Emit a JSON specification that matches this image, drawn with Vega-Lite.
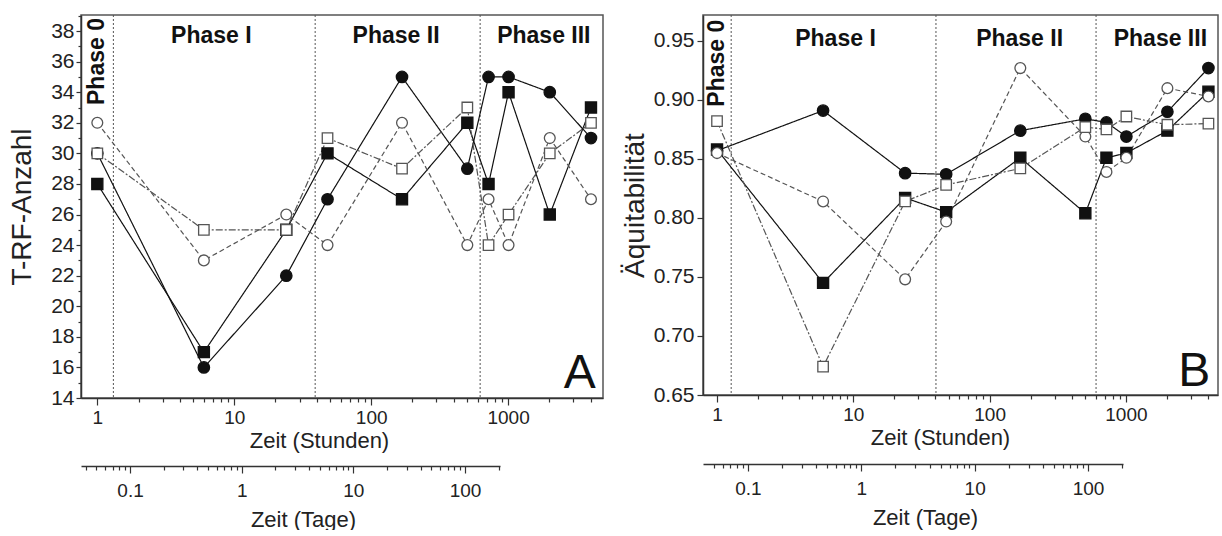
{
  "$schema": "https://vega.github.io/schema/vega-lite/v6.json",
  "padding": {"left": 7, "top": 13, "right": 0, "bottom": 0},
  "config": {
    "font": "Liberation Sans",
    "view": {"stroke": "#555", "strokeWidth": 1.5},
    "axis": {"domainColor": "#333", "domainWidth": 1.5, "tickColor": "#333", "tickWidth": 1.2, "labelColor": "#222", "titleColor": "#222", "grid": false, "titleFontWeight": "normal", "labelOverlap": false, "labelFlush": false, "labelSeparation": 0}
  },
  "datasets": {
    "A": [
      {"s": "fc", "h": 1, "v": 30}, {"s": "fc", "h": 6, "v": 16}, {"s": "fc", "h": 24, "v": 22}, {"s": "fc", "h": 48, "v": 27}, {"s": "fc", "h": 168, "v": 35}, {"s": "fc", "h": 504, "v": 29}, {"s": "fc", "h": 720, "v": 35}, {"s": "fc", "h": 1008, "v": 35}, {"s": "fc", "h": 2016, "v": 34}, {"s": "fc", "h": 4032, "v": 31},
      {"s": "fs", "h": 1, "v": 28}, {"s": "fs", "h": 6, "v": 17}, {"s": "fs", "h": 24, "v": 25}, {"s": "fs", "h": 48, "v": 30}, {"s": "fs", "h": 168, "v": 27}, {"s": "fs", "h": 504, "v": 32}, {"s": "fs", "h": 720, "v": 28}, {"s": "fs", "h": 1008, "v": 34}, {"s": "fs", "h": 2016, "v": 26}, {"s": "fs", "h": 4032, "v": 33},
      {"s": "oc", "h": 1, "v": 32}, {"s": "oc", "h": 6, "v": 23}, {"s": "oc", "h": 24, "v": 26}, {"s": "oc", "h": 48, "v": 24}, {"s": "oc", "h": 168, "v": 32}, {"s": "oc", "h": 504, "v": 24}, {"s": "oc", "h": 720, "v": 27}, {"s": "oc", "h": 1008, "v": 24}, {"s": "oc", "h": 2016, "v": 31}, {"s": "oc", "h": 4032, "v": 27},
      {"s": "os", "h": 1, "v": 30}, {"s": "os", "h": 6, "v": 25}, {"s": "os", "h": 24, "v": 25}, {"s": "os", "h": 48, "v": 31}, {"s": "os", "h": 168, "v": 29}, {"s": "os", "h": 504, "v": 33}, {"s": "os", "h": 720, "v": 24}, {"s": "os", "h": 1008, "v": 26}, {"s": "os", "h": 2016, "v": 30}, {"s": "os", "h": 4032, "v": 32}
    ],
    "B": [
      {"s": "fc", "h": 1, "v": 0.857}, {"s": "fc", "h": 6, "v": 0.891}, {"s": "fc", "h": 24, "v": 0.838}, {"s": "fc", "h": 48, "v": 0.837}, {"s": "fc", "h": 168, "v": 0.874}, {"s": "fc", "h": 504, "v": 0.884}, {"s": "fc", "h": 720, "v": 0.881}, {"s": "fc", "h": 1008, "v": 0.869}, {"s": "fc", "h": 2016, "v": 0.890}, {"s": "fc", "h": 4032, "v": 0.927},
      {"s": "fs", "h": 1, "v": 0.858}, {"s": "fs", "h": 6, "v": 0.745}, {"s": "fs", "h": 24, "v": 0.817}, {"s": "fs", "h": 48, "v": 0.805}, {"s": "fs", "h": 168, "v": 0.851}, {"s": "fs", "h": 504, "v": 0.804}, {"s": "fs", "h": 720, "v": 0.851}, {"s": "fs", "h": 1008, "v": 0.855}, {"s": "fs", "h": 2016, "v": 0.874}, {"s": "fs", "h": 4032, "v": 0.907},
      {"s": "oc", "h": 1, "v": 0.855}, {"s": "oc", "h": 6, "v": 0.814}, {"s": "oc", "h": 24, "v": 0.748}, {"s": "oc", "h": 48, "v": 0.797}, {"s": "oc", "h": 168, "v": 0.927}, {"s": "oc", "h": 504, "v": 0.869}, {"s": "oc", "h": 720, "v": 0.839}, {"s": "oc", "h": 1008, "v": 0.851}, {"s": "oc", "h": 2016, "v": 0.910}, {"s": "oc", "h": 4032, "v": 0.903},
      {"s": "os", "h": 1, "v": 0.882}, {"s": "os", "h": 6, "v": 0.674}, {"s": "os", "h": 24, "v": 0.814}, {"s": "os", "h": 48, "v": 0.828}, {"s": "os", "h": 168, "v": 0.842}, {"s": "os", "h": 504, "v": 0.877}, {"s": "os", "h": 720, "v": 0.875}, {"s": "os", "h": 1008, "v": 0.886}, {"s": "os", "h": 2016, "v": 0.879}, {"s": "os", "h": 4032, "v": 0.880}
    ],
    "phA": [{"h": 1.31}, {"h": 39}, {"h": 625}],
    "phB": [{"h": 1.27}, {"h": 40.4}, {"h": 604}],
    "lbA": [{"h": 6.8, "v": 37.2, "t": "Phase I"}, {"h": 152, "v": 37.2, "t": "Phase II"}, {"h": 1824, "v": 37.2, "t": "Phase III"}],
    "lbB": [{"h": 7.4, "v": 0.9458, "t": "Phase I"}, {"h": 166, "v": 0.9458, "t": "Phase II"}, {"h": 1790, "v": 0.9458, "t": "Phase III"}],
    "p0A": [{"h": 1.0, "v": 38.85, "t": "Phase 0"}],
    "p0B": [{"h": 1.0, "v": 0.968, "t": "Phase 0"}],
    "letA": [{"h": 4370, "v": 14.67, "t": "A"}],
    "letB": [{"h": 4160, "v": 0.6576, "t": "B"}],
    "tage": [{"d": 0.0417}, {"d": 0.25}, {"d": 1}, {"d": 2}, {"d": 7}, {"d": 21}, {"d": 30}, {"d": 42}, {"d": 84}, {"d": 168}]
  },
  "hconcat": [
    {
      "vconcat": [
        {
          "width": 522,
          "height": 383,
          "resolve": {"axis": {"y": "independent"}},
          "layer": [
            {
              "data": {"name": "phA"},
              "mark": {"type": "rule", "strokeDash": [2, 2], "color": "#555", "strokeWidth": 1},
              "encoding": {"x": {"field": "h", "type": "quantitative", "scale": {"type": "log", "domain": [0.76, 4935], "nice": false}}}
            },
            {
              "data": {"name": "A"},
              "mark": {"type": "line", "strokeWidth": 1.2},
              "encoding": {
                "x": {"field": "h", "type": "quantitative", "scale": {"type": "log", "domain": [0.76, 4935], "nice": false},
                  "axis": {"title": "Zeit (Stunden)", "values": [1,2,3,4,5,6,7,8,9,10,20,30,40,50,60,70,80,90,100,200,300,400,500,600,700,800,900,1000,2000,3000,4000],
                    "labelExpr": "abs(log(datum.value)/LN10 - round(log(datum.value)/LN10)) < 1e-6 ? format(datum.value, '~g') : ''",
                    "tickSize": {"condition": {"test": "abs(log(datum.value)/LN10 - round(log(datum.value)/LN10)) < 1e-6", "value": 7}, "value": 4},
                    "labelOverlap": false, "labelFontSize": 19, "titleFontSize": 22, "labelPadding": 3, "titlePadding": 3, "titleX": 238}},
                "y": {"field": "v", "type": "quantitative", "scale": {"domain": [14, 39.05], "nice": false, "zero": false},
                  "axis": {"title": "T-RF-Anzahl", "values": [14,16,18,20,22,24,26,28,30,32,34,36,38], "format": "d",
                    "tickSize": 5, "labelOverlap": false, "labelFontSize": 21, "titleFontSize": 28, "labelPadding": 2, "titlePadding": 14}},
                "detail": {"field": "s", "type": "nominal"},
                "strokeDash": {"field": "s", "type": "nominal", "scale": {"domain": ["fc", "fs", "oc", "os"], "range": [[1, 0], [1, 0], [5, 3], [7, 2, 2, 2]]}, "legend": null},
                "stroke": {"field": "s", "type": "nominal", "scale": {"domain": ["fc", "fs", "oc", "os"], "range": ["#111", "#111", "#555", "#555"]}, "legend": null}
              }
            },
            {
              "data": {"name": "A"},
              "mark": {"type": "point", "filled": true, "opacity": 1, "strokeWidth": 1.3},
              "encoding": {
                "x": {"field": "h", "type": "quantitative", "scale": {"type": "log", "domain": [0.76, 4935], "nice": false}},
                "y": {"field": "v", "type": "quantitative", "scale": {"domain": [14, 39.05], "nice": false, "zero": false}, "axis": null},
                "shape": {"field": "s", "type": "nominal", "scale": {"domain": ["fc", "fs", "oc", "os"], "range": ["circle", "square", "circle", "square"]}, "legend": null},
                "fill": {"field": "s", "type": "nominal", "scale": {"domain": ["fc", "fs", "oc", "os"], "range": ["#111", "#111", "#ffffff", "#ffffff"]}, "legend": null},
                "stroke": {"field": "s", "type": "nominal", "scale": {"domain": ["fc", "fs", "oc", "os"], "range": ["#111", "#111", "#555", "#555"]}, "legend": null},
                "size": {"field": "s", "type": "nominal", "scale": {"domain": ["fc", "fs", "oc", "os"], "range": [130, 110, 130, 100]}, "legend": null}
              }
            },
            {
              "data": {"name": "lbA"},
              "mark": {"type": "text", "fontWeight": "bold", "fontSize": 23, "baseline": "alphabetic", "align": "center", "color": "#111"},
              "encoding": {
                "x": {"field": "h", "type": "quantitative"},
                "y": {"field": "v", "type": "quantitative", "axis": null},
                "text": {"field": "t"}
              }
            },
            {
              "data": {"name": "p0A"},
              "mark": {"type": "text", "fontWeight": "bold", "fontSize": 23, "baseline": "middle", "align": "right", "angle": 270, "color": "#111"},
              "encoding": {
                "x": {"field": "h", "type": "quantitative"},
                "y": {"field": "v", "type": "quantitative",
                  "axis": {"orient": "left", "values": [15,17,19,21,23,25,27,29,31,33,35,37,39], "labels": false, "domain": false, "title": null, "tickSize": 3}},
                "text": {"field": "t"}
              }
            },
            {
              "data": {"name": "letA"},
              "mark": {"type": "text", "fontSize": 48, "baseline": "alphabetic", "align": "right", "color": "#111"},
              "encoding": {
                "x": {"field": "h", "type": "quantitative"},
                "y": {"field": "v", "type": "quantitative", "axis": null},
                "text": {"field": "t"}
              }
            }
          ]
        },
        {
          "width": 419,
          "height": 1,
          "view": {"stroke": null},
          "data": {"name": "tage"},
          "mark": {"type": "point", "opacity": 0},
          "encoding": {
            "x": {"field": "d", "type": "quantitative", "scale": {"type": "log", "domain": [0.0364, 205.6], "nice": false},
              "axis": {"title": "Zeit (Tage)", "orient": "bottom", "values": [0.04,0.05,0.06,0.07,0.08,0.09,0.1,0.2,0.3,0.4,0.5,0.6,0.7,0.8,0.9,1,2,3,4,5,6,7,8,9,10,20,30,40,50,60,70,80,90,100,200],
                "labelExpr": "abs(log(datum.value)/LN10 - round(log(datum.value)/LN10)) < 1e-6 ? format(datum.value, '~g') : ''",
                "tickSize": {"condition": {"test": "abs(log(datum.value)/LN10 - round(log(datum.value)/LN10)) < 1e-6", "value": 7}, "value": 4},
                "labelOverlap": false, "labelFontSize": 19, "titleFontSize": 22, "labelPadding": 8, "titlePadding": 9, "titleX": 222}}
          }
        }
      ],
      "spacing": 67,
      "bounds": "flush"
    },
    {
      "vconcat": [
        {
          "width": 515,
          "height": 380,
          "layer": [
            {
              "data": {"name": "phB"},
              "mark": {"type": "rule", "strokeDash": [2, 2], "color": "#555", "strokeWidth": 1},
              "encoding": {"x": {"field": "h", "type": "quantitative", "scale": {"type": "log", "domain": [0.789, 4740], "nice": false}}}
            },
            {
              "data": {"name": "B"},
              "mark": {"type": "line", "strokeWidth": 1.2},
              "encoding": {
                "x": {"field": "h", "type": "quantitative", "scale": {"type": "log", "domain": [0.789, 4740], "nice": false},
                  "axis": {"title": "Zeit (Stunden)", "values": [1,2,3,4,5,6,7,8,9,10,20,30,40,50,60,70,80,90,100,200,300,400,500,600,700,800,900,1000,2000,3000,4000],
                    "labelExpr": "abs(log(datum.value)/LN10 - round(log(datum.value)/LN10)) < 1e-6 ? format(datum.value, '~g') : ''",
                    "tickSize": {"condition": {"test": "abs(log(datum.value)/LN10 - round(log(datum.value)/LN10)) < 1e-6", "value": 7}, "value": 4},
                    "labelOverlap": false, "labelFontSize": 19, "titleFontSize": 22, "labelPadding": 3, "titlePadding": 3, "titleX": 237}},
                "y": {"field": "v", "type": "quantitative", "scale": {"domain": [0.65, 0.972], "nice": false, "zero": false},
                  "axis": {"title": "Äquitabilität", "values": [0.65,0.675,0.7,0.725,0.75,0.775,0.8,0.825,0.85,0.875,0.9,0.925,0.95],
                    "labelExpr": "abs(datum.value*20 - round(datum.value*20)) < 1e-6 ? format(datum.value, '.2f') : ''",
                    "tickSize": {"condition": {"test": "abs(datum.value*20 - round(datum.value*20)) < 1e-6", "value": 6}, "value": 3},
                    "labelOverlap": false, "labelFontSize": 21, "titleFontSize": 28, "labelPadding": 3, "titlePadding": 4}},
                "detail": {"field": "s", "type": "nominal"},
                "strokeDash": {"field": "s", "type": "nominal", "scale": {"domain": ["fc", "fs", "oc", "os"], "range": [[1, 0], [1, 0], [5, 3], [7, 2, 2, 2]]}, "legend": null},
                "stroke": {"field": "s", "type": "nominal", "scale": {"domain": ["fc", "fs", "oc", "os"], "range": ["#111", "#111", "#555", "#555"]}, "legend": null}
              }
            },
            {
              "data": {"name": "B"},
              "mark": {"type": "point", "filled": true, "opacity": 1, "strokeWidth": 1.3},
              "encoding": {
                "x": {"field": "h", "type": "quantitative", "scale": {"type": "log", "domain": [0.789, 4740], "nice": false}},
                "y": {"field": "v", "type": "quantitative", "scale": {"domain": [0.65, 0.972], "nice": false, "zero": false}},
                "shape": {"field": "s", "type": "nominal", "scale": {"domain": ["fc", "fs", "oc", "os"], "range": ["circle", "square", "circle", "square"]}, "legend": null},
                "fill": {"field": "s", "type": "nominal", "scale": {"domain": ["fc", "fs", "oc", "os"], "range": ["#111", "#111", "#ffffff", "#ffffff"]}, "legend": null},
                "stroke": {"field": "s", "type": "nominal", "scale": {"domain": ["fc", "fs", "oc", "os"], "range": ["#111", "#111", "#555", "#555"]}, "legend": null},
                "size": {"field": "s", "type": "nominal", "scale": {"domain": ["fc", "fs", "oc", "os"], "range": [130, 110, 130, 100]}, "legend": null}
              }
            },
            {
              "data": {"name": "lbB"},
              "mark": {"type": "text", "fontWeight": "bold", "fontSize": 23, "baseline": "alphabetic", "align": "center", "color": "#111"},
              "encoding": {
                "x": {"field": "h", "type": "quantitative"},
                "y": {"field": "v", "type": "quantitative"},
                "text": {"field": "t"}
              }
            },
            {
              "data": {"name": "p0B"},
              "mark": {"type": "text", "fontWeight": "bold", "fontSize": 23, "baseline": "middle", "align": "right", "angle": 270, "color": "#111"},
              "encoding": {
                "x": {"field": "h", "type": "quantitative"},
                "y": {"field": "v", "type": "quantitative"},
                "text": {"field": "t"}
              }
            },
            {
              "data": {"name": "letB"},
              "mark": {"type": "text", "fontSize": 48, "baseline": "alphabetic", "align": "right", "color": "#111"},
              "encoding": {
                "x": {"field": "h", "type": "quantitative"},
                "y": {"field": "v", "type": "quantitative"},
                "text": {"field": "t"}
              }
            }
          ]
        },
        {
          "width": 420,
          "height": 1,
          "view": {"stroke": null},
          "data": {"name": "tage"},
          "mark": {"type": "point", "opacity": 0},
          "encoding": {
            "x": {"field": "d", "type": "quantitative", "scale": {"type": "log", "domain": [0.0401, 203.7], "nice": false},
              "axis": {"title": "Zeit (Tage)", "orient": "bottom", "values": [0.05,0.06,0.07,0.08,0.09,0.1,0.2,0.3,0.4,0.5,0.6,0.7,0.8,0.9,1,2,3,4,5,6,7,8,9,10,20,30,40,50,60,70,80,90,100,200],
                "labelExpr": "abs(log(datum.value)/LN10 - round(log(datum.value)/LN10)) < 1e-6 ? format(datum.value, '~g') : ''",
                "tickSize": {"condition": {"test": "abs(log(datum.value)/LN10 - round(log(datum.value)/LN10)) < 1e-6", "value": 7}, "value": 4},
                "labelOverlap": false, "labelFontSize": 19, "titleFontSize": 22, "labelPadding": 8, "titlePadding": 9, "titleX": 222}}
          }
        }
      ],
      "spacing": 68,
      "bounds": "flush"
    }
  ],
  "spacing": 16
}
